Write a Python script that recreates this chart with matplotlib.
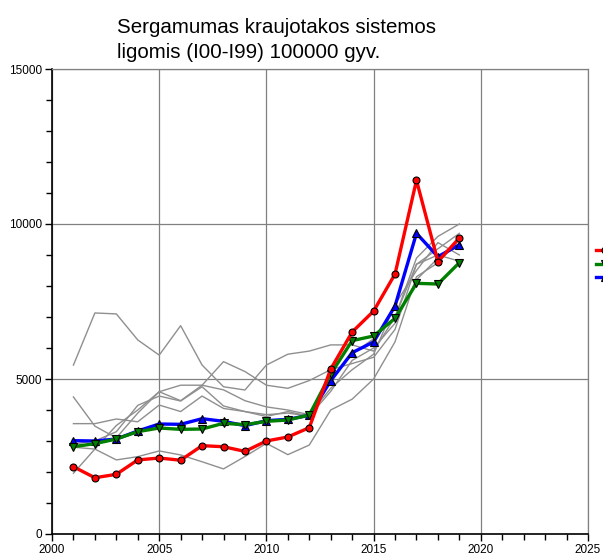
import matplotlib
matplotlib.use("Agg")
import matplotlib.pyplot as plt
from matplotlib.ticker import MultipleLocator

plt.rcParams['font.family'] = ['Liberation Sans', 'DejaVu Sans']

years = list(range(2001, 2020))

red_vals = [2170, 1815, 1925, 2390, 2450, 2380, 2850, 2815, 2665, 3000, 3130, 3430,
            5320, 6516, 7190, 8387, 11410, 8790, 9548]
green_vals = [2817, 2914, 3064, 3301, 3419, 3376, 3387, 3570, 3527, 3634, 3677, 3839,
              5160, 6237, 6387, 6958, 8086, 8064, 8752]
blue_vals = [3011, 3000, 3064, 3323, 3548, 3538, 3720, 3635, 3494, 3656, 3699, 3828,
             4946, 5850, 6194, 7355, 9699, 8946, 9333]

gray_series = [
    [5450, 7130, 7100, 6260, 5770, 6720, 5450, 4750, 4645, 5450, 5800, 5900,
     6100, 6100, 5900, 7000, 8700, 9000, 8800],
    [4420, 3480, 3100, 3900, 4590, 4300, 4800, 5560, 5240, 4800, 4700, 4950,
     5300, 5500, 5700, 6600, 8700, 9200, 9700],
    [3560, 3560, 3710, 3620, 4160, 3950, 4450, 4050, 3950, 3850, 3900, 3800,
     5000, 5800, 6300, 7000, 8900, 9600, 10000],
    [1960, 2740, 3500, 4000, 4590, 4800, 4800, 4650, 4300, 4100, 4000, 3850,
     4700, 5300, 5800, 7400, 8500, 9400, 9000],
    [2800, 2740, 2390, 2495, 2680, 2550, 2330, 2100, 2500, 2925, 2560, 2870,
     4000, 4350, 5000, 6200, 8300, 8750, 9500],
    [2900, 3000, 3300, 4150, 4450, 4290, 4750, 4130, 3950, 3790, 3950, 3800,
     4600, 5600, 6000, 6800, 8200, 8900, 9300],
]

series_labels = ["", "", ""]
title_text = "Sergamumas kraujotakos sistemos\nligomis (I00-I99) 100000 gyv."

fig = plt.figure(figsize=(6.03, 5.58), dpi=100)
ax = fig.add_axes([52/603, 24/558, 536/603, 465/558])

for g in gray_series:
    ax.plot(years, g, color='#8f8f8f', lw=1.0, zorder=2)

lr, = ax.plot(years, red_vals, color='#ff0000', lw=2.4, marker='o', ms=5,
              mfc='#ff0000', mec='black', mew=0.8, zorder=5)
lg, = ax.plot(years, green_vals, color='#008000', lw=2.4, marker='v', ms=6,
              mfc='#008000', mec='black', mew=0.8, zorder=4)
lb, = ax.plot(years, blue_vals, color='#0000ff', lw=2.4, marker='^', ms=6,
              mfc='#0000ff', mec='black', mew=0.8, zorder=3)

ax.set_xlim(2000, 2025)
ax.set_ylim(0, 15000)
ax.xaxis.set_major_locator(MultipleLocator(5))
ax.xaxis.set_minor_locator(MultipleLocator(1))
ax.yaxis.set_major_locator(MultipleLocator(5000))
ax.yaxis.set_minor_locator(MultipleLocator(1000))
ax.grid(True, which='major', color='#808080', lw=0.9)
ax.set_axisbelow(True)
ax.tick_params(which='major', direction='out', length=5, width=1, labelsize=8.5, pad=2)
ax.tick_params(which='minor', direction='out', length=4, width=1)
for s in ['left', 'bottom']:
    ax.spines[s].set_color('black')
    ax.spines[s].set_linewidth(1.2)
for s in ['top', 'right']:
    ax.spines[s].set_color('#808080')
    ax.spines[s].set_linewidth(0.9)

fig.text(117/603, 1 - 18/558, title_text, ha='left', va='top', fontsize=14.8,
         linespacing=1.4)

fig.legend([lr, lg, lb], series_labels, loc='upper left',
           bbox_to_anchor=(590/603, 1 - 239/558), frameon=False,
           handlelength=1.6, fontsize=8.5, labelspacing=0.15, borderpad=0,
           handletextpad=0.5)

fig.savefig("out.png", dpi=100)
